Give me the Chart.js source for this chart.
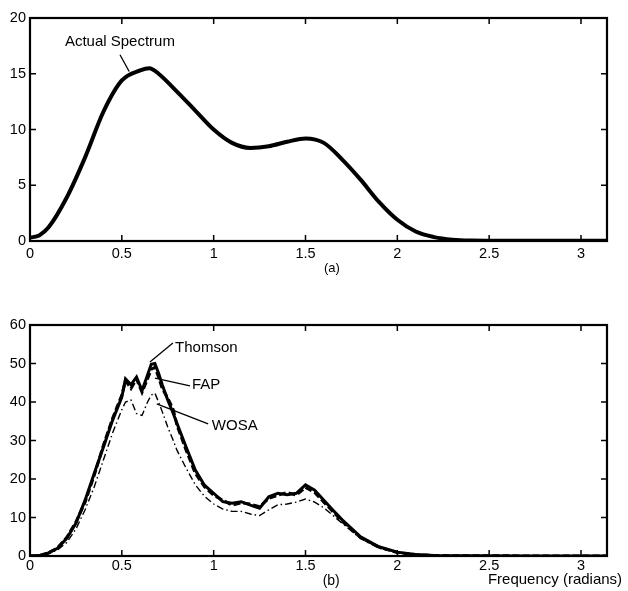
<!DOCTYPE html>
<html>
<head>
<meta charset="utf-8">
<script src="https://cdn.jsdelivr.net/npm/chart.js@4"></script>
<style>
  body { margin: 0; background: #fff; width: 628px; height: 591px; position: relative; overflow: hidden; }
  .box { position: absolute; left: 0; width: 628px; }
</style>
</head>
<body>
<div class="box" style="top:0;height:275px"><canvas id="chartA"></canvas></div>
<div class="box" style="top:300px;height:291px"><canvas id="chartB"></canvas></div>
<script>
// (a) actual spectrum
const freqA = [0, 0.05, 0.1, 0.2, 0.3, 0.4, 0.5, 0.6, 0.65, 0.7, 0.8, 0.9, 1.0, 1.1, 1.2, 1.3, 1.4, 1.5, 1.6, 1.7, 1.8, 1.9, 2.0, 2.1, 2.2, 2.3, 2.4, 2.6, 2.8, 3.0, 3.1416]
const actualSpectrum = [0.3, 0.5, 1.2, 3.9, 7.5, 11.6, 14.4, 15.3, 15.5, 15.0, 13.4, 11.7, 10.0, 8.8, 8.35, 8.5, 8.9, 9.2, 8.8, 7.3, 5.5, 3.5, 1.9, 0.85, 0.35, 0.12, 0.05, 0.03, 0.03, 0.03, 0.03]

// (b) estimates
const freqB = [0, 0.05, 0.1, 0.15, 0.2, 0.25, 0.3, 0.35, 0.4, 0.45,
  0.5, 0.52, 0.55, 0.58, 0.61, 0.64, 0.66, 0.68, 0.7, 0.72,
  0.75, 0.78, 0.8, 0.85, 0.9, 0.95, 1.0, 1.05, 1.1, 1.15,
  1.2, 1.25, 1.3, 1.35, 1.4, 1.45, 1.5, 1.55, 1.6, 1.65,
  1.7, 1.8, 1.9, 2.0, 2.1, 2.2, 2.4, 2.7, 3.0, 3.1416]
const thomson = [0, 0.1, 0.8, 2.0, 4.6, 8.5, 14.5, 21.5, 28.3, 35.3,
  41.3, 46.0, 44.5, 46.5, 43.0, 47.0, 49.8, 50.0, 47.5, 44.5,
  40.5, 37.0, 34.5, 28.3, 22.3, 18.4, 16.3, 14.1, 13.7, 14.1,
  13.2, 12.4, 15.4, 16.3, 15.9, 16.3, 18.5, 17.1, 14.5, 11.9,
  9.4, 5.0, 2.4, 1.0, 0.4, 0.15, 0.05, 0.03, 0.03, 0.03]
const fap = [0, 0.1, 0.8, 2.1, 4.8, 8.8, 14.0, 21.0, 28.8, 35.8,
  41.8, 45.5, 43.5, 46.0, 42.5, 46.0, 48.5, 49.0, 46.5, 43.5,
  41.0, 38.0, 34.0, 27.5, 21.5, 18.0, 15.8, 14.5, 13.2, 13.8,
  13.5, 12.8, 15.0, 15.8, 16.5, 15.8, 17.8, 16.5, 14.0, 11.5,
  9.0, 4.8, 2.3, 0.9, 0.35, 0.12, 0.05, 0.03, 0.03, 0.03]
const wosa = [0, 0.1, 0.5, 1.6, 3.5, 7.0, 12.0, 18.0, 25.0, 32.0,
  38.0, 40.0, 40.5, 37.0, 36.5, 40.0, 41.8, 42.3, 40.0, 37.5,
  33.5, 30.0, 27.5, 22.8, 18.5, 15.5, 13.5, 12.2, 11.6, 11.6,
  10.9, 10.5, 12.0, 13.3, 13.5, 14.0, 14.8, 14.0, 12.5, 10.5,
  8.5, 4.5, 2.0, 0.9, 0.3, 0.1, 0.04, 0.02, 0.02, 0.02]

const xTicks = [0, 0.5, 1, 1.5, 2, 2.5, 3]
const yTicksA = [0, 5, 10, 15, 20]
const yTicksB = [0, 10, 20, 30, 40, 50, 60]

const FONT = "'Liberation Sans', Arial, sans-serif"

const toPoints = (xs, ys) => xs.map((x, i) => ({ x: x, y: ys[i] }))

// box + inward ticks like matlab
const matlabAxes = {
  id: 'matlabAxes',
  afterDraw(chart, args, opts) {
    const ctx = chart.ctx
    const a = chart.chartArea
    const sx = chart.scales.x, sy = chart.scales.y
    ctx.save()
    ctx.strokeStyle = '#000'
    ctx.lineWidth = 1.5
    xTicks.forEach(v => {
      const px = sx.getPixelForValue(v)
      ctx.beginPath()
      ctx.moveTo(px, a.bottom); ctx.lineTo(px, a.bottom - 6)
      ctx.moveTo(px, a.top); ctx.lineTo(px, a.top + 6)
      ctx.stroke()
    })
    opts.yTicks.forEach(v => {
      const py = sy.getPixelForValue(v)
      ctx.beginPath()
      ctx.moveTo(a.left, py); ctx.lineTo(a.left + 6, py)
      ctx.moveTo(a.right, py); ctx.lineTo(a.right - 6, py)
      ctx.stroke()
    })
    ctx.lineWidth = 2.2
    ctx.strokeRect(a.left, a.top, a.right - a.left, a.bottom - a.top)

    // annotations placed in data coordinates
    ctx.fillStyle = '#000'
    ctx.textBaseline = 'middle'
    ctx.lineWidth = 1.3
    opts.notes.forEach(n => {
      ctx.font = (n.size || 15) + 'px ' + FONT
      ctx.textAlign = n.align || 'left'
      ctx.fillText(n.text, sx.getPixelForValue(n.x), n.py != null ? n.py : sy.getPixelForValue(n.y))
      if (n.line) {
        ctx.beginPath()
        ctx.moveTo(sx.getPixelForValue(n.line[0]), sy.getPixelForValue(n.line[1]))
        ctx.lineTo(sx.getPixelForValue(n.line[2]), sy.getPixelForValue(n.line[3]))
        ctx.stroke()
      }
    })
    ctx.restore()
  }
}

function makeOptions(yMax, yTicks, topPad, xAxisH, xLabelPad, notes) {
  return {
    responsive: true,
    maintainAspectRatio: false,
    animation: false,
    layout: { padding: { top: topPad, right: 21, left: 0, bottom: 0 } },
    plugins: {
      legend: { display: false },
      tooltip: { enabled: false },
      matlabAxes: { yTicks: yTicks, notes: notes }
    },
    elements: { point: { radius: 0 } },
    scales: {
      x: {
        type: 'linear', min: 0, max: Math.PI,
        grid: { display: false, drawTicks: false },
        border: { display: false },
        afterBuildTicks: s => { s.ticks = xTicks.map(v => ({ value: v })) },
        afterFit: s => { s.height = xAxisH },
        ticks: { color: '#000', font: { family: FONT, size: 14.5 }, padding: xLabelPad, maxRotation: 0,
          callback: v => String(v) }
      },
      y: {
        type: 'linear', min: 0, max: yMax,
        grid: { display: false, drawTicks: false },
        border: { display: false },
        afterBuildTicks: s => { s.ticks = yTicks.map(v => ({ value: v })) },
        afterFit: s => { s.width = 30 },
        ticks: { color: '#000', font: { family: FONT, size: 14.5 }, padding: 4 }
      }
    }
  }
}

new Chart(document.getElementById('chartA'), {
  type: 'line',
  data: {
    datasets: [{
      label: 'Actual Spectrum',
      data: toPoints(freqA, actualSpectrum),
      borderColor: '#000',
      borderWidth: 4,
      cubicInterpolationMode: 'monotone'
    }]
  },
  options: makeOptions(20, yTicksA, 18, 34, 4, [
    { text: 'Actual Spectrum', x: 0.19, y: 17.85, line: [0.49, 16.7, 0.54, 15.2] },
    { text: '(a)', x: 1.644, py: 268, align: 'center', size: 13 }
  ]),
  plugins: [matlabAxes]
})

new Chart(document.getElementById('chartB'), {
  type: 'line',
  data: {
    datasets: [{
      label: 'Thomson',
      data: toPoints(freqB, thomson),
      borderColor: '#000',
      borderWidth: 3,
      tension: 0
    }, {
      label: 'FAP',
      data: toPoints(freqB, fap),
      borderColor: '#000',
      borderWidth: 3,
      borderDash: [7, 3],
      tension: 0
    }, {
      label: 'WOSA',
      data: toPoints(freqB, wosa),
      borderColor: '#000',
      borderWidth: 1.4,
      borderDash: [7, 3, 1.5, 3],
      tension: 0
    }]
  },
  options: makeOptions(60, yTicksB, 25, 35, 1, [
    { text: 'Thomson', x: 0.79, y: 54, line: [0.653, 50.4, 0.778, 55.3] },
    { text: 'FAP', x: 0.882, y: 44.4, line: [0.68, 46.2, 0.871, 44.2] },
    { text: 'WOSA', x: 0.99, y: 33.8, line: [0.69, 39.5, 0.97, 34.3] },
    { text: '(b)', x: 1.64, py: 281, align: 'center', size: 14 },
    { text: 'Frequency (radians)', x: 2.493, py: 280 }
  ]),
  plugins: [matlabAxes]
})
</script>
</body>
</html>
